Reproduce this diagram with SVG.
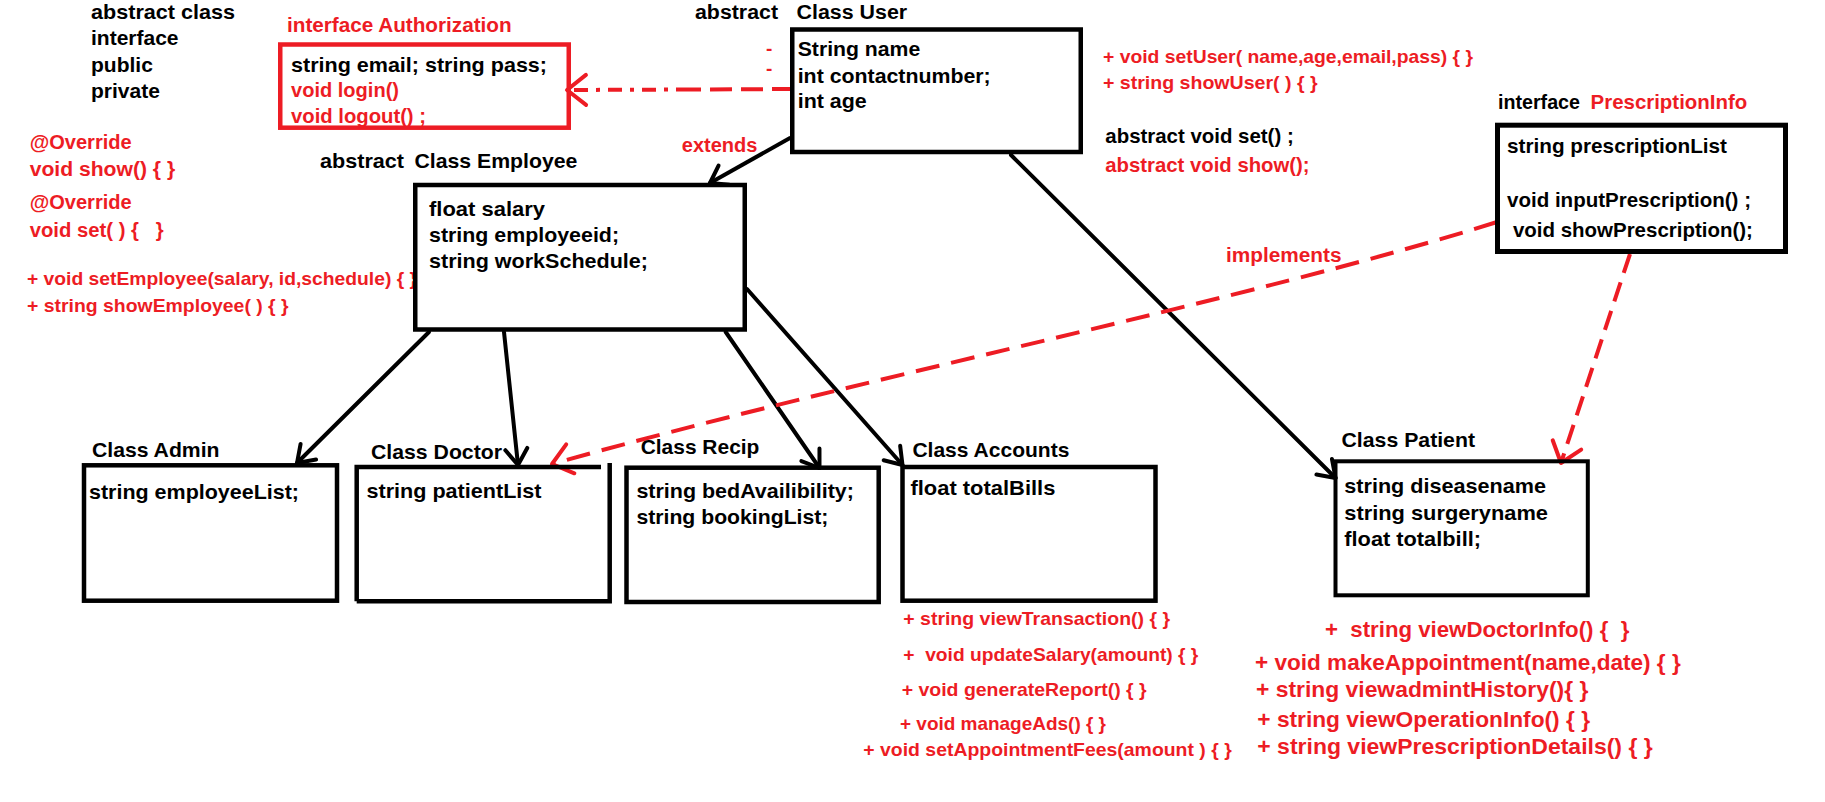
<svg xmlns="http://www.w3.org/2000/svg" width="1825" height="802" viewBox="0 0 1825 802">
<style>
text{font-family:"Liberation Sans",Arial,sans-serif;font-weight:bold;font-size:21px;fill:#000}
.r{fill:#ed1c24}
.s19{font-size:19px}
.s20{font-size:20px}
.s22{font-size:22.5px}
.box{fill:none;stroke:#000;stroke-width:4.5}
.rbox{fill:none;stroke:#ed1c24;stroke-width:4.5}
.ln{fill:none;stroke:#000;stroke-width:4;stroke-linecap:round;marker-end:url(#ah)}
.rl{fill:none;stroke:#ed1c24;stroke-width:4}
</style>
<defs>
<marker id="ah" markerUnits="userSpaceOnUse" viewBox="-22 -16 26 32" refX="0" refY="0" markerWidth="26" markerHeight="32" orient="auto" overflow="visible">
<path d="M -16 -11 L 0 0 L -16 11" fill="none" stroke="#000" stroke-width="4" stroke-linecap="round" stroke-linejoin="round"/>
</marker>
<marker id="rah" markerUnits="userSpaceOnUse" viewBox="-24 -18 28 36" refX="0" refY="0" markerWidth="28" markerHeight="36" orient="auto" overflow="visible">
<path d="M -19 -15 L 0 0 L -19 15" fill="none" stroke="#ed1c24" stroke-width="4" stroke-linecap="round" stroke-linejoin="round"/>
</marker>
</defs>
<rect width="1825" height="802" fill="#fff"/>

<g id="legend">
<text x="91" y="19" textLength="144" lengthAdjust="spacingAndGlyphs">abstract class</text>
<text x="91" y="45">interface</text>
<text x="91" y="71.7">public</text>
<text x="91" y="98.3">private</text>
</g>

<g id="connectors">
<path class="ln" d="M 790 138 L 710 183"/>
<path class="ln" d="M 1011 155 L 1335.5 478"/>
<path class="ln" d="M 429 332 L 297 463"/>
<path class="ln" d="M 504 332 L 518 465"/>
<path class="ln" d="M 725.7 332 L 819.5 468"/>
<path class="ln" d="M 747 289 L 902.5 465"/>
<path class="rl" d="M 794 89 L 690 89.5" stroke-dasharray="22 9"/>
<path class="rl" d="M 690 89.5 L 567 90" stroke-dasharray="14 8 4 8" marker-end="url(#rah)"/>
<path class="rl" d="M 1497 222 C 1250 300, 850 380, 552 464" stroke-dasharray="24 12" marker-end="url(#rah)"/>
<path class="rl" d="M 1630 254 L 1561 463" stroke-dasharray="20 10" marker-end="url(#rah)"/>
<text class="r s20" x="681.8" y="151.7" textLength="75.6" lengthAdjust="spacingAndGlyphs">extends</text>
<text class="r s20" x="1226" y="261.7" textLength="115.5" lengthAdjust="spacingAndGlyphs">implements</text>
</g>

<g id="node-authorization">
<text class="r s20" x="287" y="31.7" textLength="224.6" lengthAdjust="spacingAndGlyphs">interface Authorization</text>
<rect class="rbox" x="280.25" y="44.5" width="288.5" height="83.2"/>
<text x="291" y="71.7" textLength="256" lengthAdjust="spacingAndGlyphs">string email; string pass;</text>
<text class="r" x="291" y="96.7" textLength="108" lengthAdjust="spacingAndGlyphs">void login()</text>
<text class="r" x="291" y="122.7" textLength="135" lengthAdjust="spacingAndGlyphs">void logout() ;</text>
</g>

<g id="node-user">
<text class="s20" x="695" y="18.5" textLength="83" lengthAdjust="spacingAndGlyphs">abstract</text>
<text class="s20" x="796.5" y="18.5" textLength="110.7" lengthAdjust="spacingAndGlyphs">Class User</text>
<rect class="box" x="792.25" y="29.5" width="288.5" height="122.5"/>
<text class="r s19" x="766" y="55">-</text>
<text class="r s19" x="766" y="75">-</text>
<text x="797.7" y="56" textLength="122.6" lengthAdjust="spacingAndGlyphs">String name</text>
<text x="797.7" y="82.7" textLength="193" lengthAdjust="spacingAndGlyphs">int contactnumber;</text>
<text x="797.7" y="108.3" textLength="69" lengthAdjust="spacingAndGlyphs">int age</text>
<text class="r s19" x="1103" y="63.3" textLength="370" lengthAdjust="spacingAndGlyphs">+ void setUser( name,age,email,pass) { }</text>
<text class="r s19" x="1103" y="89.3" textLength="214.6" lengthAdjust="spacingAndGlyphs">+ string showUser( ) { }</text>
<text x="1105.3" y="143.3" textLength="188.4" lengthAdjust="spacingAndGlyphs">abstract void set() ;</text>
<text class="r" x="1105.3" y="171.7" textLength="204.3" lengthAdjust="spacingAndGlyphs">abstract void show();</text>
</g>

<g id="node-employee">
<text class="r s20" x="29.7" y="149" textLength="102" lengthAdjust="spacingAndGlyphs">@Override</text>
<text class="r s20" x="29.7" y="176" textLength="145.5" lengthAdjust="spacingAndGlyphs">void show() { }</text>
<text class="r s20" x="29.7" y="209.3" textLength="102" lengthAdjust="spacingAndGlyphs">@Override</text>
<text class="r s20" x="29.7" y="237.3" textLength="134" lengthAdjust="spacingAndGlyphs" xml:space="preserve">void set( ) {   }</text>
<text class="r s19" x="27" y="285" textLength="390" lengthAdjust="spacingAndGlyphs">+ void setEmployee(salary, id,schedule) { }</text>
<text class="r s19" x="27" y="311.7" textLength="261.6" lengthAdjust="spacingAndGlyphs">+ string showEmployee( ) { }</text>
<text x="320" y="168.3" textLength="84" lengthAdjust="spacingAndGlyphs">abstract</text>
<text x="414.4" y="168.3" textLength="163" lengthAdjust="spacingAndGlyphs">Class Employee</text>
<rect class="box" x="415.25" y="185" width="329.5" height="144.5"/>
<text x="429" y="216" textLength="116" lengthAdjust="spacingAndGlyphs">float salary</text>
<text x="429" y="241.7" textLength="190" lengthAdjust="spacingAndGlyphs">string employeeid;</text>
<text x="429" y="267.7" textLength="219" lengthAdjust="spacingAndGlyphs">string workSchedule;</text>
</g>

<g id="node-prescription">
<text x="1498" y="109.3" textLength="82" lengthAdjust="spacingAndGlyphs">interface</text>
<text class="r" x="1590.6" y="109.3" textLength="156.6" lengthAdjust="spacingAndGlyphs">PrescriptionInfo</text>
<rect class="box" x="1497.5" y="125.2" width="288" height="126.3" style="stroke-width:5"/>
<text x="1507" y="152.7" textLength="220" lengthAdjust="spacingAndGlyphs">string prescriptionList</text>
<text x="1507" y="207.3" textLength="244" lengthAdjust="spacingAndGlyphs">void inputPrescription() ;</text>
<text x="1512.9" y="237.3" textLength="240" lengthAdjust="spacingAndGlyphs">void showPrescription();</text>
</g>

<g id="node-admin">
<text x="92" y="457.3" textLength="127.5" lengthAdjust="spacingAndGlyphs">Class Admin</text>
<rect class="box" x="84" y="465.3" width="253" height="135.4"/>
<text x="89" y="499.3" textLength="210" lengthAdjust="spacingAndGlyphs">string employeeList;</text>
</g>

<g id="node-doctor">
<text x="371" y="459" textLength="131" lengthAdjust="spacingAndGlyphs">Class Doctor</text>
<path class="box" d="M 356.7 601.3 V 467 H 601 M 609.7 463 V 601.3 H 356.7"/>
<text x="366.5" y="497.7" textLength="175" lengthAdjust="spacingAndGlyphs">string patientList</text>
</g>

<g id="node-recip">
<text x="640.7" y="454" textLength="118.7" lengthAdjust="spacingAndGlyphs">Class Recip</text>
<rect class="box" x="626.5" y="467.7" width="252.2" height="134.3"/>
<text x="636.4" y="498.3" textLength="217.5" lengthAdjust="spacingAndGlyphs">string bedAvailibility;</text>
<text x="636.4" y="524.3" textLength="192" lengthAdjust="spacingAndGlyphs">string bookingList;</text>
</g>

<g id="node-accounts">
<text x="912.4" y="457.3" textLength="157" lengthAdjust="spacingAndGlyphs">Class Accounts</text>
<rect class="box" x="902.5" y="467" width="253" height="133.7"/>
<text x="910.4" y="495" textLength="145" lengthAdjust="spacingAndGlyphs">float totalBills</text>
<text class="r s19" x="903.3" y="625" textLength="266.7" lengthAdjust="spacingAndGlyphs">+ string viewTransaction() { }</text>
<text class="r s19" x="903.3" y="660.7" textLength="295" lengthAdjust="spacingAndGlyphs" xml:space="preserve">+  void updateSalary(amount) { }</text>
<text class="r s19" x="901.7" y="696" textLength="245" lengthAdjust="spacingAndGlyphs">+ void generateReport() { }</text>
<text class="r s19" x="900" y="730" textLength="206" lengthAdjust="spacingAndGlyphs">+ void manageAds() { }</text>
<text class="r s19" x="863.3" y="756" textLength="368.4" lengthAdjust="spacingAndGlyphs">+ void setAppointmentFees(amount ) { }</text>
</g>

<g id="node-patient">
<text x="1341.5" y="446.7" textLength="133.5" lengthAdjust="spacingAndGlyphs">Class Patient</text>
<rect class="box" x="1335.5" y="461.3" width="252.3" height="134" style="stroke-width:4"/>
<text x="1344.3" y="493.3" textLength="201.7" lengthAdjust="spacingAndGlyphs">string diseasename</text>
<text x="1344.3" y="520" textLength="203.7" lengthAdjust="spacingAndGlyphs">string surgeryname</text>
<text x="1344.3" y="546" textLength="136.7" lengthAdjust="spacingAndGlyphs">float totalbill;</text>
<text class="r s22" x="1325" y="636.7" textLength="304.3" lengthAdjust="spacingAndGlyphs" xml:space="preserve">+  string viewDoctorInfo() {  }</text>
<text class="r s22" x="1255" y="670" textLength="425.7" lengthAdjust="spacingAndGlyphs">+ void makeAppointment(name,date) { }</text>
<text class="r s22" x="1256" y="697.3" textLength="332.3" lengthAdjust="spacingAndGlyphs">+ string viewadmintHistory(){ }</text>
<text class="r s22" x="1257.3" y="726.7" textLength="332.7" lengthAdjust="spacingAndGlyphs">+ string viewOperationInfo() { }</text>
<text class="r s22" x="1257.3" y="754" textLength="395.4" lengthAdjust="spacingAndGlyphs">+ string viewPrescriptionDetails() { }</text>
</g>
</svg>
